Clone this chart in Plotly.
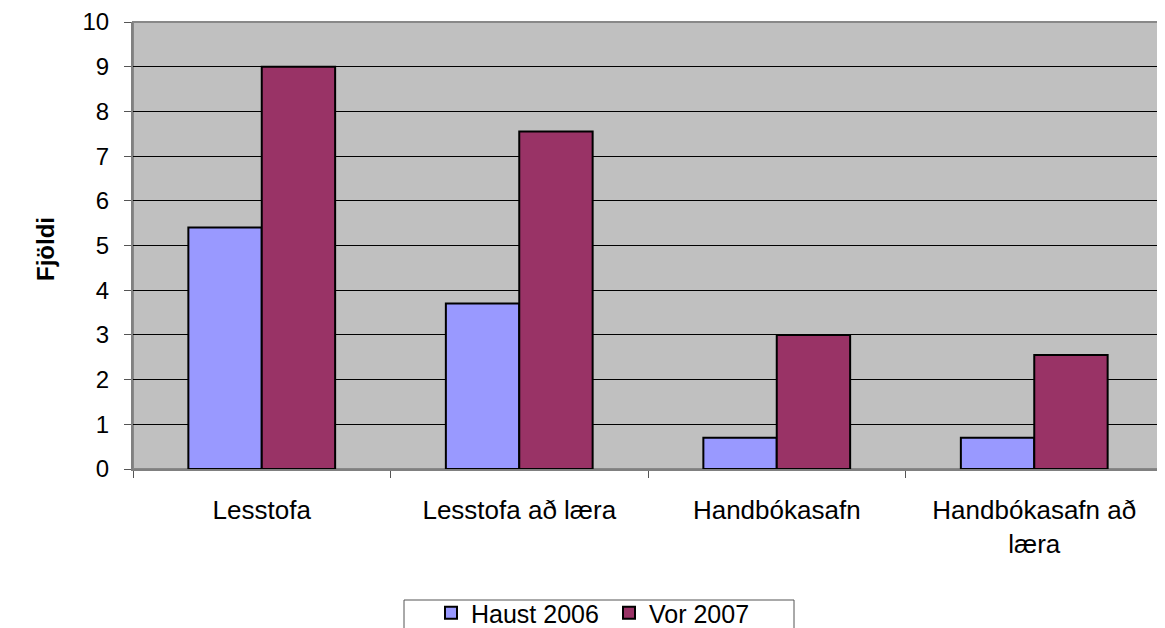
import plotly.graph_objects as go

categories = ["Lesstofa", "Lesstofa að læra", "Handbókasafn", "Handbókasafn að<br>læra"]
haust_2006 = [5.4, 3.7, 0.7, 0.7]
vor_2007 = [9.0, 7.55, 3.0, 2.55]
y_ticks = list(range(0, 11))

# page has an 8px body margin; lay out in reference-pixel terms
OFF = 8
W, H = 1165 - OFF, 628 - OFF
X0, X1, Y0, Y1 = 133, 1163, 22, 469   # plot area in reference pixels
PW, PH = X1 - X0, Y1 - Y0

def px(x):
    return (x - X0) / PW

def py(y):
    return (Y1 - y) / PH

fig = go.Figure()
fig.add_trace(go.Bar(x=categories, y=haust_2006, name="Haust 2006",
                     marker=dict(color="#9999FF", line=dict(color="black", width=2))))
fig.add_trace(go.Bar(x=categories, y=vor_2007, name="Vor 2007",
                     marker=dict(color="#993366", line=dict(color="black", width=2))))

fig.update_layout(
    width=W, height=H,
    margin=dict(l=X0 - OFF, r=1165 - X1, t=Y0 - OFF, b=628 - Y1, autoexpand=False),
    paper_bgcolor="white", plot_bgcolor="#C0C0C0",
    barmode="group", bargap=0.43, bargroupgap=0,
    font=dict(family="Liberation Sans, Arial", size=24, color="black"),
    showlegend=True,
    legend=dict(orientation="h", x=px(431), xanchor="left", y=py(590), yanchor="top",
                borderwidth=0, bgcolor="rgba(0,0,0,0)",
                font=dict(size=25), entrywidth=133, itemwidth=30),
)
fig.update_yaxes(range=[0, 10], tickvals=y_ticks, showgrid=True, gridcolor="black", gridwidth=1,
                 ticks="outside", ticklen=7, tickcolor="#555555", showline=True, linecolor="#808080",
                 linewidth=2, zeroline=False, automargin=False, ticklabelstandoff=10,
                 tickfont=dict(size=24))
fig.update_xaxes(tickson="boundaries", ticks="outside", ticklen=7, tickcolor="#555555",
                 showline=True, linecolor="#808080", linewidth=2, showgrid=False,
                 automargin=False, ticklabelstandoff=17, tickfont=dict(size=26))
fig.add_shape(type="rect", xref="paper", yref="paper", x0=0, x1=1, y0=0, y1=1,
              line=dict(color="#888888", width=2), layer="below")
fig.add_shape(type="rect", xref="paper", yref="paper", x0=px(404), x1=px(794),
              y0=py(640), y1=py(600), line=dict(color="#555555", width=1))
fig.add_annotation(text="<b>Fjöldi</b>", xref="paper", yref="paper", x=px(45), y=py(249),
                   xanchor="center", yanchor="middle",
                   textangle=-90, showarrow=False, font=dict(size=24))

fig.write_html("out.html")
